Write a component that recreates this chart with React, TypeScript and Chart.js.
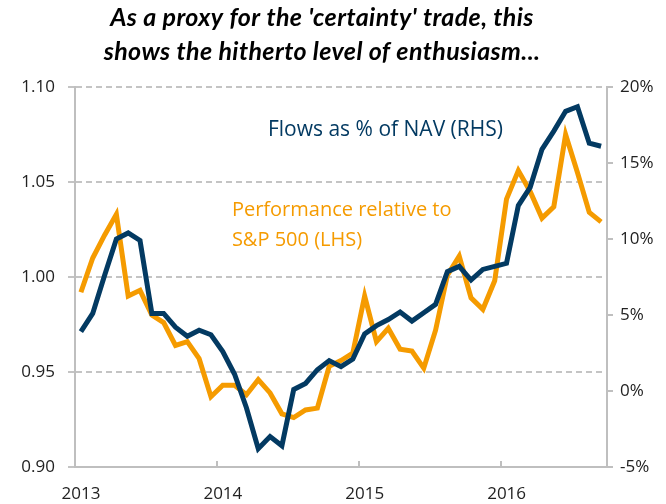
import React, { useEffect, useRef } from "react";
import { Chart, registerables } from "chart.js";

Chart.register(...registerables);

const BLUE = "#033a62";
const ORANGE = "#f59b00";
const AXIS = "#bfbfbf";
const GRID = "#c4c4c4";
const TEXT = "#222222";

const titleLines = [
  "As a proxy for the 'certainty' trade, this",
  "shows the hitherto level of enthusiasm...",
];

const years = [2013, 2014, 2015, 2016];

// Monthly observations, Jan 2013 .. Sep 2016
const performance = [
  0.992, 1.010, 1.022, 1.033, 0.990, 0.993, 0.980, 0.976, 0.964, 0.966,
  0.957, 0.937, 0.943, 0.943, 0.938, 0.946, 0.939, 0.928, 0.926, 0.930,
  0.931, 0.953, 0.956, 0.960, 0.990, 0.966, 0.973, 0.962, 0.961, 0.952,
  0.972, 1.001, 1.011, 0.989, 0.983, 0.998, 1.041, 1.056, 1.045, 1.031,
  1.037, 1.075, 1.055, 1.034, 1.029,
];

const flows = [
  3.9, 5.1, 7.6, 10.0, 10.4, 9.9, 5.1, 5.1, 4.2, 3.6,
  4.0, 3.7, 2.6, 1.1, -1.1, -3.8, -3.0, -3.6, 0.1, 0.5,
  1.4, 2.0, 1.6, 2.1, 3.75, 4.3, 4.7, 5.2, 4.6, 5.15,
  5.7, 7.85, 8.2, 7.3, 8.0, 8.2, 8.4, 12.2, 13.4, 15.9,
  17.1, 18.4, 18.7, 16.3, 16.1,
];

const dates = performance.map((_, i) => 2013 + (i + 0.5) / 12);

const annotations = [
  { text: "Flows as % of NAV (RHS)", x: 2014.36, y: 1.0774, color: BLUE, size: 21 },
  { text: "Performance relative to", x: 2014.106, y: 1.0353, color: ORANGE, size: 20 },
  { text: "S&P 500 (LHS)", x: 2014.106, y: 1.0195, color: ORANGE, size: 20 },
];

const overlay = {
  id: "overlay",
  beforeDatasetsDraw(chart: any) {
    const { ctx, chartArea } = chart;
    const x = chart.scales.x;
    ctx.save();
    ctx.strokeStyle = AXIS;
    ctx.lineWidth = 2;
    for (const yr of years.slice(1)) {
      const px = Math.round(x.getPixelForValue(yr));
      ctx.beginPath();
      ctx.moveTo(px, chartArea.bottom);
      ctx.lineTo(px, chartArea.bottom - 6);
      ctx.stroke();
    }
    ctx.restore();
  },
  afterDraw(chart: any) {
    const { ctx } = chart;
    const x = chart.scales.x;
    const y = chart.scales.y;
    ctx.save();
    ctx.textBaseline = "middle";
    ctx.textAlign = "left";
    for (const a of annotations) {
      ctx.font = `${a.size}px "Open Sans"`;
      ctx.fillStyle = a.color;
      ctx.fillText(a.text, x.getPixelForValue(a.x), y.getPixelForValue(a.y));
    }
    ctx.fillStyle = "#000";
    ctx.textAlign = "center";
    ctx.font = "italic bold 25px Lato";
    try {
      (ctx as any).letterSpacing = "0.4px";
    } catch (e) {}
    titleLines.forEach((t, i) => ctx.fillText(t, 322, 18 + i * 34));
    ctx.restore();
  },
};

export default function App() {
  const ref = useRef<HTMLCanvasElement | null>(null);

  useEffect(() => {
    document.body.style.margin = "0";
    if (!ref.current) return;
    const tickFont = { family: '"Open Sans"', size: 17 };
    const chart = new Chart(ref.current, {
      type: "line",
      data: {
        datasets: [
          {
            label: "Flows as % of NAV (RHS)",
            data: flows.map((v, i) => ({ x: dates[i], y: v })),
            yAxisID: "y2",
            borderColor: BLUE,
            borderWidth: 5,
            pointRadius: 0,
            tension: 0,
          },
          {
            label: "Performance relative to S&P 500 (LHS)",
            data: performance.map((v, i) => ({ x: dates[i], y: v })),
            yAxisID: "y",
            borderColor: ORANGE,
            borderWidth: 5,
            pointRadius: 0,
            tension: 0,
          },
        ],
      },
      options: {
        animation: false,
        responsive: true,
        maintainAspectRatio: false,
        layout: { padding: { top: 87, left: 0, right: 0, bottom: 0 } },
        plugins: {
          legend: { display: false },
          title: { display: false },
          tooltip: { enabled: false },
        },
        scales: {
          x: {
            type: "linear",
            min: 2013,
            max: 2016.75,
            afterBuildTicks: (s: any) => {
              s.ticks = years.map((v) => ({ value: v }));
            },
            afterFit: (s: any) => {
              s.height = 37;
            },
            ticks: {
              callback: (v: any) => String(v),
              labelOffset: 6,
              padding: 9,
              maxRotation: 0,
              autoSkip: false,
              color: TEXT,
              font: tickFont,
            },
            grid: { display: false },
            border: { display: true, color: AXIS, width: 2 },
          },
          y: {
            position: "left",
            min: 0.9,
            max: 1.1,
            afterFit: (s: any) => {
              s.width = 75;
            },
            ticks: {
              stepSize: 0.05,
              callback: (v: any) => Number(v).toFixed(2),
              padding: 13,
              color: TEXT,
              font: tickFont,
            },
            grid: {
              color: GRID,
              lineWidth: 2,
              tickLength: 7,
              tickBorderDash: [6, 4],
            },
            border: { display: true, color: AXIS, width: 2, dash: [6, 4] },
          },
          y2: {
            position: "right",
            min: -5,
            max: 20,
            afterFit: (s: any) => {
              s.width = 59;
            },
            ticks: {
              stepSize: 5,
              callback: (v: any) => `${v}%`,
              padding: 7,
              color: TEXT,
              font: tickFont,
            },
            grid: {
              drawOnChartArea: false,
              color: AXIS,
              lineWidth: 2,
              tickLength: 6,
            },
            border: { display: true, color: AXIS, width: 2 },
          },
        },
      },
      plugins: [overlay],
    });
    return () => chart.destroy();
  }, []);

  return (
    <div style={{ width: 666, height: 504, position: "relative" }}>
      <canvas ref={ref} />
    </div>
  );
}
